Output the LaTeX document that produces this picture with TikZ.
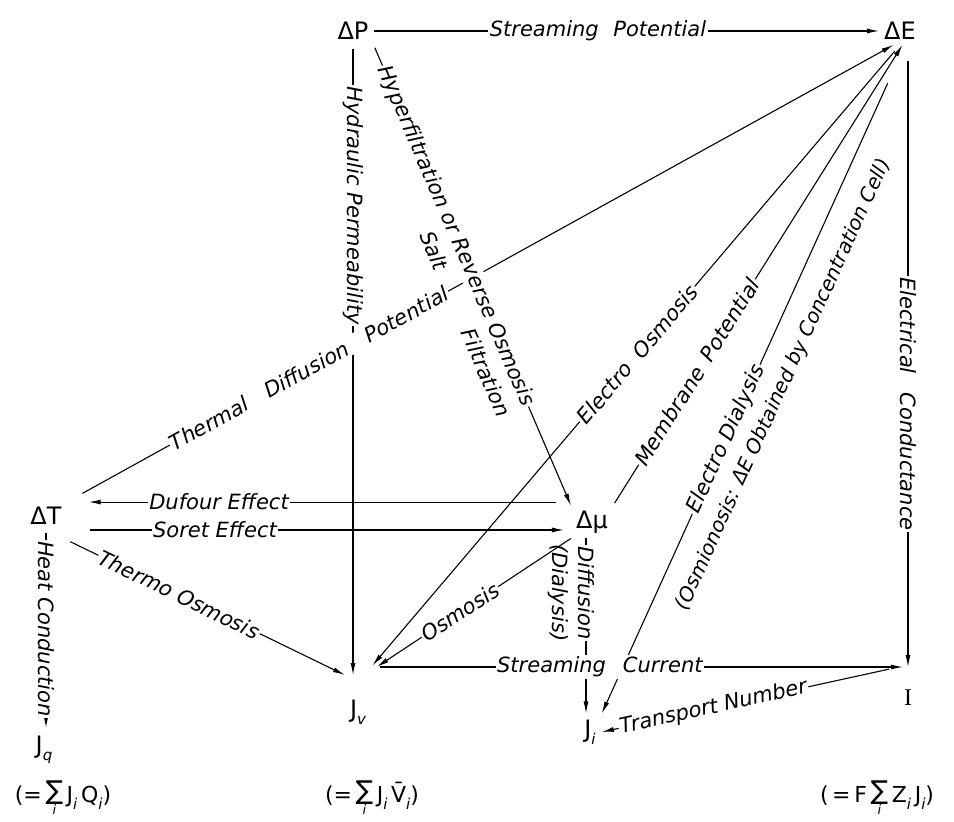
\documentclass[tikz,border=0pt]{standalone}
\usepackage{fontspec}
\setmainfont{DejaVu Sans}
\newfontfamily\serifI{Liberation Serif}
\usetikzlibrary{arrows.meta,calc}
\newcommand\mysub[1]{\raisebox{-0.3em}{\fontsize{15}{15}\selectfont\itshape #1}}
\newcommand\mysum{\raisebox{-0.55em}{\shortstack{{\fontsize{26}{26}\selectfont ∑}\\[-3pt]{\fontsize{13}{13}\selectfont\itshape i}}}}
\begin{document}
\begin{tikzpicture}[x=1pt,y=-1pt,
  var/.style={font=\fontsize{24}{26}\selectfont, inner sep=5pt},
  lbl/.style={font=\fontsize{21}{24}\selectfont\itshape, fill=white, inner sep=1.5pt},
  lbltwo/.style={font=\fontsize{21}{24}\selectfont\itshape, inner xsep=0pt, inner ysep=17pt},
  conn/.style={line width=1.1pt, -{Latex[length=12pt,width=5pt]}},
  bot/.style={font=\fontsize{22}{24}\selectfont}]
\fill[white] (0,0) rectangle (954,822);
\useasboundingbox (0,0) rectangle (954,822);

% ---------- variables ----------
\node[var] (dP) at (353,31) {ΔP};
\node[var] (dE) at (900,31) {ΔE};
\node[var] (dT) at (46,516) {ΔT};
\node[var] (dmu) at (592,522) {Δμ};
\node[var, anchor=north, inner ysep=33pt] (Jv) at (358,667) {J\mysub{v}};
\node[var, anchor=north, inner ysep=23pt] (I) at (908,667) {\serifI I};
\node[var, inner sep=6pt] (Ji) at (590,732) {J\mysub{i}};
\node[var, inner sep=8pt] (Jq) at (44,750) {J\mysub{q}};

% ---------- connectors ----------
\draw[conn] (dP.east) -- (dE.west);
\draw[conn, shorten <=4pt] (dP.south) -- ($(dP.south |- Jv.north)+(0,8)$);
\draw[conn, shorten <=3pt] (dP.south east) -- (dmu.north west);
\draw[conn, shorten <=18pt] (dT.north east) -- (dE.-115);
\draw[conn, shorten <=15pt, shorten >=22pt] (dmu.west |- dT.north east) -- (dT.north east);
\draw[conn, shorten <=23pt, shorten >=7pt] (dT.south east) -- (dT.south east -| dmu.west);
\draw[conn, shorten <=4pt] ($(dT.south east)+(0,10)$) -- ($(Jv.north west)+(0,8)$);
\draw[conn, shorten <=3pt] (dT.south) -- (dT.south |- Jq.north);
\draw[conn, shorten <=8pt, shorten >=2pt] (dE.south) -- (Jv.north east);
\draw[conn, shorten <=3pt] (dmu.north east) -- (dE.-80);
\draw[conn, shorten <=42pt] (dE.-70) -- (Ji.north east);
\draw[conn, shorten <=16pt] (I.north |- dE.south) -- (I.north);
\draw[conn, shorten >=2pt] (dmu.south west) -- ($(Jv.north east)+(4,1)$);
\draw[conn] ($(dmu.south)+(-6,0)$) -- ($(dmu.south |- Ji.north)+(-6,0)$);
\draw[conn, shorten <=9pt, shorten >=5pt] (Jv.north east) -- (I.north);
\draw[conn, shorten <=10pt] (I.north west) -- (Ji.east);

% ---------- labels ----------
\path (dP.east) -- node[lbl, pos=0.444] (lSP) {Streaming\hspace{0.7em}Potential} (dE.west);
\path (dP.south) -- node[lbl, rotate=-90, pos=0.255] (lHP) {Hydraulic Permeability} ($(dP.south |- Jv.north)+(0,8)$);
\path (dP.south east) -- node[lbl, sloped, pos=0.415] (lHF) {Hyperfiltration or Reverse Osmosis}
      node[lbltwo, sloped, pos=0.425, anchor=north] (lSalt) {Salt}
      node[lbltwo, sloped, pos=0.69, anchor=north] (lFilt) {Filtration} (dmu.north west);
\path (dT.north east) -- node[lbl, sloped, pos=0.293] (lTD) {Thermal\hspace{1em}Diffusion\hspace{1em}Potential} (dE.-115);
\path (dmu.west |- dT.north east) -- node[lbl, pos=0.698] (lDU) {Dufour Effect} (dT.north east);
\path (dT.south east) -- node[lbl, pos=0.294] (lSO) {Soret Effect} (dT.south east -| dmu.west);
\path ($(dT.south east)+(0,10)$) -- node[lbl, sloped, pos=0.404] (lTO) {Thermo Osmosis} ($(Jv.north west)+(0,8)$);
\path (dT.south) -- node[lbl, rotate=-90, pos=0.5] (lHC) {Heat Conduction} (dT.south |- Jq.north);
\path (dE.south) -- node[lbl, sloped, pos=0.497] (lEO) {Electro\hspace{0.6em}Osmosis} (Jv.north east);
\path (dmu.north east) -- node[lbl, sloped, pos=0.29] (lMP) {Membrane\hspace{0.5em}Potential} (dE.-80);
\path (dE.-70) -- node[lbl, sloped, pos=0.59] (lED) {Electro Dialysis}
      node[lbltwo, sloped, pos=0.49, anchor=north, inner ysep=20pt, font=\fontsize{20}{22}\selectfont\itshape] (lOI) {(Osmionosis: ΔE Obtained by Concentration Cell)} (Ji.north east);
\path (I.north |- dE.south) -- node[lbl, rotate=-90, pos=0.577] (lEC) {Electrical\hspace{0.9em}Conductance} (I.north);
\path (dmu.south west) -- node[lbl, sloped, pos=0.567] (lOS) {Osmosis} ($(Jv.north east)+(4,1)$);
\path ($(dmu.south)+(-6,0)$) -- node[lbl, rotate=-90, pos=0.31] (lDI) {Diffusion}
      node[lbltwo, rotate=-90, pos=0.31, anchor=north] (lDY) {(Dialysis)} ($(dmu.south |- Ji.north)+(-6,0)$);
\path (Jv.north east) -- node[lbl, pos=0.426] (lSC) {Streaming\hspace{0.8em}Current} (I.north);
\path (I.north west) -- node[lbl, sloped, pos=0.624] (lTN) {Transport Number} (Ji.east);

% ---------- bottom relations ----------
\node[bot] (b1) at (63,798) {(=\,\mysum\,J\mysub{i}\,Q\mysub{i})};
\node[bot] (b2) at (372,798) {(=\,\mysum\,J\mysub{i}\,\={V}\mysub{i})};
\node[bot] (b3) at (877,798) {(\,=\,F\,\mysum\,Z\mysub{i}\,J\mysub{i})};
\end{tikzpicture}
\end{document}
